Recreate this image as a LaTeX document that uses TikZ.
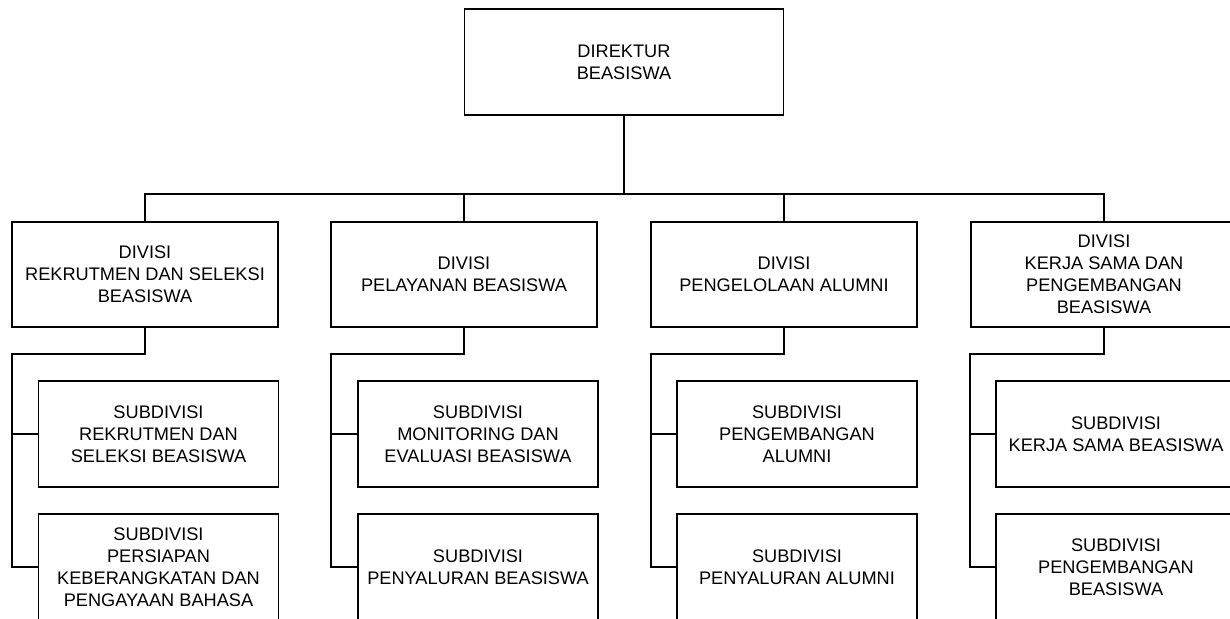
\documentclass[tikz,border=0pt]{standalone}
\usepackage{fontspec}
\setmainfont{Liberation Sans}
\begin{document}
\begin{tikzpicture}[x=1pt,y=-1pt,
  every node/.style={font=\fontsize{18.2}{22}\selectfont, text=black},
  orgbox/.style={draw=black, line width=1.3pt, rectangle, align=center, inner sep=1pt, fill=white},
  topbox/.style={orgbox, minimum width=319pt, minimum height=106pt},
  divbox/.style={orgbox, minimum width=266pt, minimum height=105pt},
  subbox/.style={orgbox, minimum width=240pt, minimum height=106pt},
  link/.style={draw=black, line width=1.3pt}]
\useasboundingbox (0,0) rectangle (1230,618);
\clip (0,0) rectangle (1230,618);

\node[topbox] (dir) at (624,62) {DIREKTUR\\BEASISWA};

\node[divbox] (d1) at (145,274.5) {DIVISI\\REKRUTMEN DAN SELEKSI\\BEASISWA};
\node[divbox] (d2) at (464,274.5) {DIVISI\\PELAYANAN BEASISWA};
\node[divbox] (d3) at (784,274.5) {DIVISI\\PENGELOLAAN ALUMNI};
\node[divbox] (d4) at (1104,274.5) {DIVISI\\KERJA SAMA DAN\\PENGEMBANGAN\\BEASISWA};

\node[subbox] (s11) at (158.5,434) {SUBDIVISI\\REKRUTMEN DAN\\SELEKSI BEASISWA};
\node[subbox] (s12) at (158.5,567) {SUBDIVISI\\PERSIAPAN\\KEBERANGKATAN DAN\\PENGAYAAN BAHASA};
\node[subbox] (s21) at (478,434) {SUBDIVISI\\MONITORING DAN\\EVALUASI BEASISWA};
\node[subbox] (s22) at (478,567) {SUBDIVISI\\PENYALURAN BEASISWA};
\node[subbox] (s31) at (797,434) {SUBDIVISI\\PENGEMBANGAN\\ALUMNI};
\node[subbox] (s32) at (797,567) {SUBDIVISI\\PENYALURAN ALUMNI};
\node[subbox] (s41) at (1116,434) {SUBDIVISI\\KERJA SAMA BEASISWA};
\node[subbox] (s42) at (1116,567) {SUBDIVISI\\PENGEMBANGAN\\BEASISWA};

% top bus
\coordinate (bus) at (624,194);
\draw[link] (dir.south) -- (bus);
\draw[link] (d1.north) |- (bus) -| (d4.north);
\draw[link] (d2.north) -- (d2.north |- bus);
\draw[link] (d3.north) -- (d3.north |- bus);

% division to subdivision connectors
\coordinate (b1) at (12,354);
\coordinate (b2) at (331,354);
\coordinate (b3) at (651,354);
\coordinate (b4) at (970,354);
\draw[link] (d1.south) |- (b1) |- (s12.west);
\draw[link] (s11.west -| b1) -- (s11.west);
\draw[link] (d2.south) |- (b2) |- (s22.west);
\draw[link] (s21.west -| b2) -- (s21.west);
\draw[link] (d3.south) |- (b3) |- (s32.west);
\draw[link] (s31.west -| b3) -- (s31.west);
\draw[link] (d4.south) |- (b4) |- (s42.west);
\draw[link] (s41.west -| b4) -- (s41.west);
\end{tikzpicture}
\end{document}
